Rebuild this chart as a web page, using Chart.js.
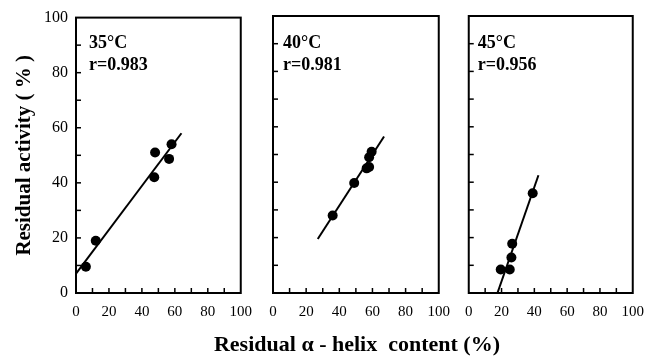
<!DOCTYPE html>
<html>
<head>
<meta charset="utf-8">
<script src="https://cdn.jsdelivr.net/npm/chart.js@4"></script>
<style>
  body { margin: 0; background: #fff; }
  #wrap { position: relative; width: 647px; height: 360px; overflow: hidden; }
  .panel { position: absolute; top: 0; height: 360px; }
  #xtitle {
    position: absolute; left: 57px; width: 600px; top: 331px;
    text-align: center; font: bold 22px 'Liberation Serif', serif; color: #000;
  }
</style>
</head>
<body>
<div id="wrap">
  <div class="panel" style="left:0;width:262px"><canvas id="c35"></canvas></div>
  <div class="panel" style="left:258px;width:202px"><canvas id="c40"></canvas></div>
  <div class="panel" style="left:455px;width:199px"><canvas id="c45"></canvas></div>
  <div id="xtitle">Residual α - helix&nbsp; content (%)</div>
</div>
<script>
const tempLabels = ['35°C', '40°C', '45°C'];
const rLabels = ['r=0.983', 'r=0.981', 'r=0.956'];
const axisTicks = [0, 20, 40, 60, 80, 100];

// 35 °C
const helix35 = [6, 12, 47.5, 48, 56.5, 58];
const activity35 = [9.5, 19, 42, 51, 48.7, 54];
const fitHelix35 = [0, 64];
const fitActivity35 = [7, 58];

// 40 °C
const helix40 = [36, 49, 56.5, 58, 58, 59.5];
const activity40 = [28, 39.7, 45, 45.5, 49, 51];
const fitHelix40 = [27, 67];
const fitActivity40 = [19.5, 56.5];

// 45 °C
const helix45 = [19.5, 25, 26, 26.5, 39];
const activity45 = [8.5, 8.5, 12.8, 17.8, 36];
const fitHelix45 = [17.5, 42.5];
const fitActivity45 = [0, 42.5];

const serif = "'Liberation Serif', 'Times New Roman', serif";

const framePlugin = {
    id: 'frame',
    afterDraw(chart) {
        const { ctx, chartArea: a, scales: { x, y } } = chart;
        const o = chart.options.plugins.frame;
        ctx.save();
        ctx.strokeStyle = '#000';
        ctx.lineWidth = 1.5;
        for (let v = 10; v < 100; v += 10) {
            const px = x.getPixelForValue(v);
            ctx.beginPath(); ctx.moveTo(px, a.bottom); ctx.lineTo(px, a.bottom - 5); ctx.stroke();
            const py = y.getPixelForValue(v);
            ctx.beginPath(); ctx.moveTo(a.left, py); ctx.lineTo(a.left + 5, py); ctx.stroke();
        }
        ctx.lineWidth = 2;
        ctx.strokeRect(a.left, a.top, a.right - a.left, a.bottom - a.top);
        ctx.fillStyle = '#000';
        ctx.font = 'bold 18px ' + serif;
        ctx.textBaseline = 'alphabetic';
        ctx.fillText(o.temp, a.left + o.dx, 48);
        ctx.fillText(o.r, a.left + o.dx, 70);
        ctx.restore();
    }
};

function toPoints(xs, ys) {
    return xs.map((v, i) => ({ x: v, y: ys[i] }));
}

function makePanel(id, idx, helix, activity, fitX, fitY, yWidth, dx, showY) {
    return new Chart(document.getElementById(id).getContext('2d'), {
        type: 'scatter',
        data: {
            datasets: [{
                data: toPoints(helix, activity),
                pointRadius: 5,
                pointBackgroundColor: '#000',
                pointBorderWidth: 0
            }, {
                data: toPoints(fitX, fitY),
                showLine: true,
                borderColor: '#000',
                borderWidth: 2,
                pointRadius: 0
            }]
        },
        options: {
            responsive: true,
            maintainAspectRatio: false,
            animation: false,
            layout: { padding: { top: 16, right: 0, left: 0, bottom: 0 } },
            scales: {
                x: {
                    type: 'linear', min: 0, max: 100,
                    afterBuildTicks: s => { s.ticks = axisTicks.map(v => ({ value: v })); },
                    afterFit: s => { s.height = 67; },
                    grid: { display: false, drawTicks: false },
                    border: { display: false },
                    ticks: { color: '#000', padding: 10, maxRotation: 0, font: { family: serif, size: 15 } }
                },
                y: {
                    type: 'linear', min: 0, max: 100,
                    afterBuildTicks: s => { s.ticks = axisTicks.map(v => ({ value: v })); },
                    afterFit: s => { s.width = yWidth; },
                    grid: { display: false, drawTicks: false },
                    border: { display: false },
                    ticks: { display: showY, color: '#000', padding: 8, font: { family: serif, size: 16 } },
                    title: {
                        display: showY,
                        text: 'Residual activity ( % )',
                        color: '#000',
                        padding: { top: 12, bottom: 0 },
                        font: { family: serif, size: 21, weight: 'bold' }
                    }
                }
            },
            plugins: {
                legend: { display: false },
                tooltip: { enabled: false },
                frame: { temp: tempLabels[idx], r: rLabels[idx], dx: dx }
            }
        },
        plugins: [framePlugin]
    });
}

makePanel('c35', 0, helix35, activity35, fitHelix35, fitActivity35, 76, 13, true);
makePanel('c40', 1, helix40, activity40, fitHelix40, fitActivity40, 15, 10, false);
makePanel('c45', 2, helix45, activity45, fitHelix45, fitActivity45, 13, 9, false);
</script>
</body>
</html>
